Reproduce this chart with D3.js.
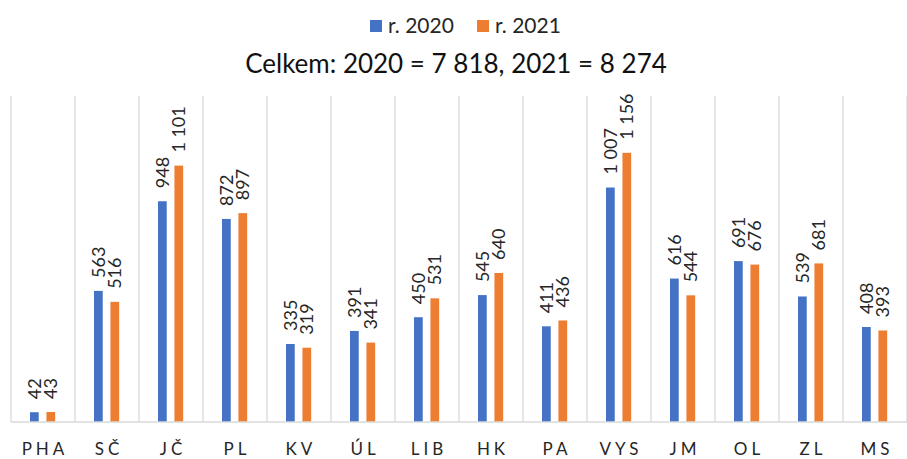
<!DOCTYPE html>
<html>
<head>
<meta charset="utf-8">
<script src="https://cdn.jsdelivr.net/npm/d3@7"></script>
<style>
  body { margin: 0; background: #fff; }
  svg { font-family: Lato, "Open Sans", sans-serif; }
</style>
</head>
<body>
<div id="chart"></div>
<script>
// data
var categories = ["PHA", "SČ", "JČ", "PL", "KV", "ÚL", "LIB", "HK", "PA", "VYS", "JM", "OL", "ZL", "MS"];
var seriesNames = ["r. 2020", "r. 2021"];
var values2020 = [42, 563, 948, 872, 335, 391, 450, 545, 411, 1007, 616, 691, 539, 408];
var values2021 = [43, 516, 1101, 897, 319, 341, 531, 640, 436, 1156, 544, 676, 681, 393];
var colors = ["#4472C4", "#ED7D31"];

var width = 907, height = 459;
var plotLeft = 11, plotRight = 907, plotTop = 96, plotBottom = 422;

var fmt = function (v) { return d3.format(",")(v).replace(/,/g, " "); };

var svg = d3.select("#chart").append("svg")
    .attr("width", width)
    .attr("height", height);

var x = d3.scaleBand()
    .domain(categories)
    .range([plotLeft, plotRight])
    .padding(0);

var bw = x.bandwidth();
var xs = d3.scaleBand()
    .domain([0, 1])
    .range([bw * 0.297, bw * 0.69])
    .paddingInner(0.47)
    .paddingOuter(0);

var y = d3.scaleLinear()
    .domain([0, 1400])
    .range([plotBottom, plotTop]);

//vertical separators between categories
var bounds = categories.map(function (c) { return x(c); }).concat([plotRight]);
svg.append("g").selectAll("line")
    .data(bounds)
    .enter().append("line")
    .attr("x1", function (d) { return d; })
    .attr("x2", function (d) { return d; })
    .attr("y1", plotTop)
    .attr("y2", plotBottom)
    .attr("stroke", "#d9d9d9")
    .attr("stroke-width", 1.3);

//bars and labels
var series = [values2020, values2021];
series.forEach(function (vals, s) {
    var g = svg.append("g");
    g.selectAll("rect")
        .data(vals)
        .enter().append("rect")
        .attr("x", function (d, i) { return x(categories[i]) + xs(s); })
        .attr("y", function (d) { return y(d); })
        .attr("width", xs.bandwidth())
        .attr("height", function (d) { return plotBottom - y(d); })
        .attr("fill", colors[s]);

    g.selectAll("text")
        .data(vals)
        .enter().append("text")
        .attr("transform", function (d, i) {
            var cx = x(categories[i]) + xs(s) + xs.bandwidth() / 2;
            return "translate(" + cx + "," + (y(d) - 13) + ") rotate(-90)";
        })
        .attr("dy", "0.36em")
        .attr("font-size", 18)
        .attr("fill", "#262626")
        .text(function (d) { return fmt(d); });
});

//x axis line
svg.append("line")
    .attr("x1", plotLeft)
    .attr("x2", plotRight)
    .attr("y1", plotBottom)
    .attr("y2", plotBottom)
    .attr("stroke", "#d9d9d9")
    .attr("stroke-width", 1.5);

//category labels
svg.append("g").selectAll("text")
    .data(categories)
    .enter().append("text")
    .attr("x", function (d) { return x(d) + bw / 2 + 2; })
    .attr("y", 455)
    .attr("text-anchor", "middle")
    .attr("font-size", 17)
    .attr("letter-spacing", 4)
    .attr("fill", "#262626")
    .text(function (d) { return d; });

//title
var total2020 = d3.sum(values2020), total2021 = d3.sum(values2021);
svg.append("text")
    .attr("x", 456)
    .attr("y", 73)
    .attr("text-anchor", "middle")
    .attr("font-size", 26)
    .attr("fill", "#111")
    .text("Celkem: 2020 = " + fmt(total2020) + ", 2021 = " + fmt(total2021));

//legend
var legendX = [370, 477];
seriesNames.forEach(function (name, s) {
    svg.append("rect")
        .attr("x", legendX[s])
        .attr("y", 20)
        .attr("width", 12)
        .attr("height", 12)
        .attr("fill", colors[s]);
    svg.append("text")
        .attr("x", legendX[s] + 18)
        .attr("y", 33)
        .attr("font-size", 21)
        .attr("fill", "#262626")
        .text(name);
});
</script>
</body>
</html>
